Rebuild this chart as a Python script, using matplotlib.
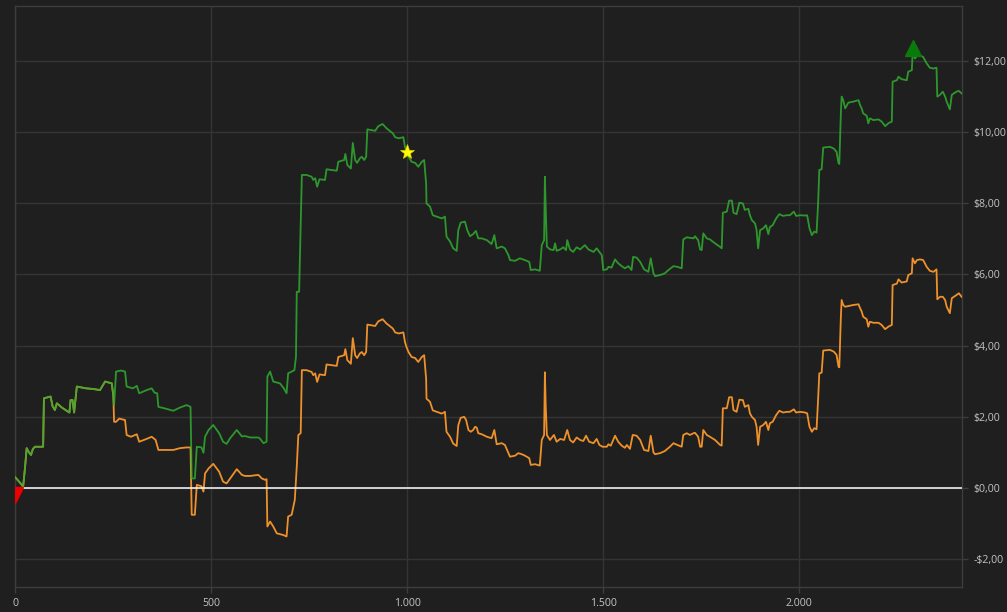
import numpy as np
import matplotlib
matplotlib.use("Agg")
import matplotlib.pyplot as plt
import matplotlib.transforms as mtransforms
from matplotlib.ticker import FuncFormatter, FixedLocator

# ---------------- data ----------------
green_x = [0, 12, 20, 25, 29, 35, 40, 45, 50, 71, 73, 90, 95, 101, 106, 120, 138, 141, 146, 150,
           157, 180, 200, 216, 229, 246, 250, 252, 257, 270, 280, 284, 300, 310, 316, 335, 348, 355,
           362, 365, 380, 403, 420, 437, 447, 450, 458, 463, 475, 480, 484, 493, 505, 520, 530, 539,
           548, 565, 578, 586, 599, 620, 624, 633, 641, 643, 650, 658, 675, 685, 692, 696, 712, 716,
           718, 724, 731, 743, 756, 760, 765, 770, 776, 790, 794, 820, 824, 839, 842, 847, 856, 861,
           867, 872, 879, 884, 890, 895, 898, 918, 926, 937, 947, 963, 969, 978, 990, 994, 998, 1003,
           1011, 1020, 1028, 1037, 1043, 1048, 1049, 1058, 1065, 1088, 1096, 1100, 1109, 1117, 1126,
           1130, 1136, 1147, 1153, 1160, 1168, 1175, 1181, 1190, 1203, 1215, 1222, 1228, 1241, 1249,
           1258, 1262, 1275, 1287, 1300, 1311, 1315, 1326, 1338, 1343, 1349, 1351, 1353, 1356, 1364,
           1373, 1377, 1381, 1390, 1398, 1405, 1408, 1415, 1423, 1432, 1441, 1453, 1462, 1475, 1483,
           1496, 1500, 1509, 1513, 1521, 1530, 1538, 1547, 1555, 1564, 1572, 1576, 1585, 1594, 1604,
           1615, 1621, 1628, 1632, 1645, 1657, 1666, 1679, 1689, 1700, 1704, 1713, 1730, 1734, 1742,
           1747, 1751, 1755, 1764, 1772, 1785, 1798, 1802, 1805, 1815, 1821, 1828, 1832, 1840, 1847,
           1856, 1861, 1870, 1874, 1879, 1887, 1891, 1895, 1900, 1908, 1915, 1921, 1925, 1932, 1941,
           1949, 1959, 1968, 1976, 1986, 1992, 2002, 2015, 2020, 2026, 2032, 2038, 2044, 2048, 2051,
           2057, 2061, 2078, 2088, 2095, 2100, 2102, 2106, 2108, 2112, 2117, 2125, 2138, 2151, 2155,
           2159, 2163, 2172, 2176, 2180, 2189, 2202, 2210, 2219, 2227, 2236, 2238, 2249, 2253, 2261,
           2274, 2278, 2287, 2289, 2295, 2300, 2308, 2316, 2325, 2333, 2342, 2350, 2352, 2359, 2366,
           2372, 2376, 2384, 2389, 2401, 2407, 2414]
green_y = [0.30, 0.15, 0.04, 0.60, 1.12, 1.00, 0.93, 1.10, 1.16, 1.16, 2.52, 2.57, 2.30, 2.19, 2.38,
           2.25, 2.12, 2.47, 2.47, 2.12, 2.85, 2.80, 2.78, 2.75, 2.99, 2.94, 2.60, 2.33, 3.27, 3.30,
           3.27, 2.85, 2.80, 2.87, 2.66, 2.75, 2.80, 2.68, 2.66, 2.28, 2.24, 2.17, 2.26, 2.33, 2.28,
           0.27, 0.27, 1.16, 1.14, 0.99, 1.44, 1.63, 1.77, 1.54, 1.30, 1.24, 1.40, 1.63, 1.45, 1.46,
           1.42, 1.42, 1.39, 1.26, 1.30, 3.13, 3.27, 2.99, 2.94, 2.80, 2.66, 3.22, 3.31, 3.69, 5.51,
           5.51, 8.79, 8.79, 8.74, 8.65, 8.70, 8.46, 8.67, 8.65, 8.95, 8.91, 9.16, 9.21, 9.38, 9.07,
           8.97, 9.69, 9.21, 9.13, 9.26, 9.30, 9.21, 9.30, 10.07, 10.03, 10.16, 10.22, 10.10, 9.96,
           9.85, 9.82, 9.85, 9.58, 9.44, 9.30, 9.16, 9.13, 9.02, 9.16, 9.21, 8.55, 7.99, 7.90, 7.66,
           7.57, 7.62, 7.06, 6.92, 6.73, 6.66, 7.24, 7.45, 7.48, 7.24, 7.07, 7.13, 7.22, 7.01, 7.01,
           6.96, 6.85, 7.10, 6.73, 6.78, 6.73, 6.54, 6.40, 6.38, 6.45, 6.40, 6.35, 6.12, 6.14, 6.10,
           6.82, 6.96, 8.74, 7.90, 6.78, 6.70, 6.68, 6.87, 6.66, 6.70, 6.76, 6.68, 6.96, 6.70, 6.63,
           6.76, 6.70, 6.82, 6.70, 6.63, 6.73, 6.54, 6.12, 6.14, 6.21, 6.19, 6.42, 6.31, 6.23, 6.17,
           6.23, 6.12, 6.49, 6.47, 6.35, 6.14, 6.07, 6.45, 6.03, 5.95, 5.98, 6.03, 6.12, 6.23, 6.21,
           6.17, 6.98, 7.04, 7.01, 7.07, 6.96, 6.70, 6.68, 7.15, 7.01, 6.98, 6.87, 6.77, 6.73, 7.73,
           7.76, 8.07, 8.07, 7.73, 7.69, 8.01, 7.99, 7.81, 7.84, 7.66, 7.52, 7.43, 7.24, 6.73, 7.24,
           7.29, 7.38, 7.13, 7.33, 7.38, 7.57, 7.69, 7.64, 7.66, 7.66, 7.76, 7.64, 7.66, 7.65, 7.66,
           7.29, 7.10, 7.20, 7.17, 8.00, 8.93, 8.95, 9.56, 9.58, 9.53, 9.44, 9.12, 9.10, 10.52, 10.99,
           10.89, 10.66, 10.82, 10.85, 10.89, 10.75, 10.66, 10.52, 10.45, 10.24, 10.38, 10.33, 10.35,
           10.29, 10.16, 10.24, 10.29, 11.41, 11.45, 11.55, 11.48, 11.45, 11.69, 11.73, 12.20, 12.06,
           12.13, 12.15, 12.10, 11.92, 11.80, 11.78, 11.80, 10.99, 11.04, 11.13, 10.99, 10.85, 10.63,
           11.04, 11.13, 11.15, 11.08]

orange_x = [0, 12, 20, 25, 29, 35, 40, 45, 50, 71, 73, 90, 95, 101, 106, 120, 138, 141, 146, 150,
            157, 180, 200, 216, 229, 246, 250, 252, 257, 265, 280, 284, 295, 310, 316, 335, 348, 358,
            365, 403, 420, 437, 447, 450, 458, 463, 475, 480, 484, 493, 505, 520, 530, 539, 548, 565,
            578, 586, 599, 620, 629, 637, 641, 643, 650, 658, 667, 684, 692, 696, 705, 713, 718, 722,
            728, 731, 743, 756, 760, 765, 770, 776, 790, 794, 820, 824, 839, 842, 847, 856, 861, 867,
            872, 879, 884, 890, 895, 898, 918, 926, 937, 947, 963, 969, 978, 990, 994, 998, 1003,
            1011, 1020, 1028, 1037, 1043, 1048, 1049, 1058, 1065, 1088, 1096, 1100, 1109, 1117, 1126,
            1130, 1136, 1145, 1150, 1156, 1162, 1168, 1173, 1177, 1181, 1190, 1203, 1215, 1222, 1228,
            1241, 1249, 1258, 1262, 1275, 1283, 1292, 1300, 1311, 1315, 1326, 1338, 1343, 1349, 1351,
            1353, 1356, 1364, 1374, 1381, 1390, 1400, 1408, 1415, 1423, 1432, 1441, 1449, 1456, 1464,
            1475, 1483, 1490, 1498, 1509, 1513, 1519, 1530, 1538, 1547, 1555, 1560, 1568, 1575, 1585,
            1594, 1604, 1615, 1621, 1628, 1632, 1645, 1657, 1670, 1679, 1689, 1700, 1704, 1713, 1721,
            1730, 1734, 1742, 1747, 1751, 1755, 1764, 1772, 1785, 1798, 1802, 1805, 1815, 1821, 1828,
            1832, 1840, 1847, 1856, 1861, 1870, 1874, 1879, 1887, 1891, 1895, 1900, 1908, 1915, 1921,
            1925, 1932, 1941, 1949, 1959, 1968, 1976, 1986, 1992, 2002, 2015, 2020, 2026, 2032, 2038,
            2044, 2048, 2051, 2057, 2061, 2078, 2088, 2095, 2100, 2102, 2106, 2108, 2112, 2117, 2125,
            2138, 2151, 2155, 2159, 2163, 2172, 2176, 2180, 2189, 2202, 2210, 2219, 2227, 2236, 2238,
            2249, 2253, 2261, 2274, 2278, 2287, 2289, 2295, 2300, 2308, 2316, 2325, 2333, 2342, 2350,
            2352, 2359, 2366, 2372, 2376, 2384, 2389, 2401, 2407, 2414]
orange_y = [0.30, 0.15, 0.04, 0.60, 1.12, 1.00, 0.93, 1.10, 1.16, 1.16, 2.52, 2.57, 2.30, 2.19, 2.38,
            2.25, 2.12, 2.47, 2.47, 2.12, 2.85, 2.80, 2.78, 2.75, 2.99, 2.94, 2.60, 1.86, 1.86, 1.95,
            1.91, 1.49, 1.44, 1.51, 1.30, 1.38, 1.44, 1.35, 1.07, 1.07, 1.12, 1.14, 1.14, -0.75,
            -0.75, 0.09, 0.05, -0.10, 0.41, 0.55, 0.68, 0.46, 0.18, 0.13, 0.27, 0.53, 0.37, 0.34,
            0.34, 0.37, 0.27, 0.23, 0.25, -1.08, -0.94, -1.08, -1.27, -1.32, -1.36, -0.80, -0.75,
            -0.33, 0.60, 1.49, 1.54, 3.31, 3.31, 3.26, 3.17, 3.22, 2.98, 3.19, 3.17, 3.47, 3.43, 3.68,
            3.73, 3.90, 3.59, 3.49, 4.21, 3.73, 3.65, 3.78, 3.82, 3.73, 3.82, 4.59, 4.55, 4.68, 4.74,
            4.62, 4.48, 4.37, 4.34, 4.37, 4.10, 3.96, 3.82, 3.68, 3.65, 3.54, 3.68, 3.73, 3.07, 2.51,
            2.42, 2.18, 2.09, 2.14, 1.58, 1.44, 1.25, 1.18, 1.76, 1.97, 2.00, 1.91, 1.63, 1.58, 1.63,
            1.72, 1.70, 1.54, 1.51, 1.44, 1.40, 1.63, 1.23, 1.26, 1.21, 0.98, 0.88, 0.91, 0.98, 0.95,
            0.91, 0.84, 0.65, 0.67, 0.63, 1.35, 1.49, 3.25, 2.33, 1.49, 1.35, 1.49, 1.30, 1.38, 1.35,
            1.63, 1.35, 1.28, 1.42, 1.35, 1.32, 1.47, 1.30, 1.26, 1.38, 1.21, 1.16, 1.16, 1.23, 1.19,
            1.47, 1.30, 1.19, 1.13, 1.21, 1.10, 1.49, 1.47, 1.35, 1.07, 1.04, 1.47, 1.00, 0.95, 0.98,
            1.04, 1.16, 1.26, 1.21, 1.16, 1.49, 1.54, 1.49, 1.54, 1.55, 1.44, 1.16, 1.16, 1.63, 1.49,
            1.44, 1.35, 1.21, 1.19, 2.24, 2.24, 2.55, 2.55, 2.19, 2.14, 2.48, 2.47, 2.28, 2.33, 2.10,
            2.00, 1.91, 1.72, 1.21, 1.72, 1.77, 1.86, 1.63, 1.82, 1.86, 2.05, 2.17, 2.12, 2.14, 2.14,
            2.21, 2.12, 2.14, 2.12, 2.10, 1.72, 1.58, 1.68, 1.65, 2.50, 3.22, 3.24, 3.86, 3.88, 3.83,
            3.74, 3.41, 3.39, 4.80, 5.28, 5.14, 5.09, 5.11, 5.14, 5.16, 5.05, 4.96, 4.81, 4.74, 4.53,
            4.67, 4.64, 4.64, 4.58, 4.46, 4.53, 4.58, 5.70, 5.74, 5.86, 5.77, 5.80, 5.98, 6.03, 6.45,
            6.31, 6.40, 6.42, 6.40, 6.21, 6.10, 6.07, 6.14, 5.30, 5.37, 5.37, 5.28, 5.09, 4.91, 5.33,
            5.42, 5.47, 5.37]

highlight_x = [998]
highlight_y = [9.44]

x_ticks = [0, 500, 1000, 1500, 2000]
x_tick_labels = ["0", "500", "1.000", "1.500", "2.000"]
y_ticks = [-2, 0, 2, 4, 6, 8, 10, 12]

# ---------------- style ----------------
BG = "#1f1f1f"
GRID = "#343434"
SPINE = "#3d3d3d"
TXT = "#c4c4c4"
GREEN = "#30ad30"
ORANGE = "#ef912b"

fig = plt.figure(figsize=(10.07, 6.12), dpi=100, facecolor=BG)
ax = fig.add_axes([0.0152, 0.0413, 0.9401, 0.9481], facecolor=BG)

ax.plot(orange_x, orange_y, color=ORANGE, lw=1.3, zorder=3)
ax.plot(green_x, green_y, color=GREEN, lw=1.3, alpha=0.85, zorder=4)

ax.axhline(0, color="white", lw=1.1, zorder=5)

# markers
gx = np.asarray(green_x)
gy = np.asarray(green_y)
imax = int(np.argmax(gy))
up = ax.transData + mtransforms.ScaledTranslation(0, 6 / 100, fig.dpi_scale_trans)
down = ax.transData + mtransforms.ScaledTranslation(0, -7 / 100, fig.dpi_scale_trans)
ax.plot([gx[imax]], [gy[imax]], marker="^", ms=11, color="#0a7a0a", mec="#0a7a0a",
        transform=up, zorder=6, clip_on=False)
ax.plot([gx[0]], [0], marker="v", ms=12, color="#ee0000", mec="#ee0000",
        transform=down, zorder=6)
ax.plot(highlight_x, highlight_y, marker="*", ms=11, color="#ffff00", mec="#e6d200",
        mew=0.5, linestyle="none", zorder=7)

ax.set_xlim(0, 2415)
ax.set_ylim(-2.77, 13.52)

ax.xaxis.set_major_locator(FixedLocator(x_ticks))
ax.set_xticklabels(x_tick_labels)
ax.yaxis.set_major_locator(FixedLocator(y_ticks))


def money(v, pos=None):
    s = f"{abs(v):.2f}".replace(".", ",")
    return ("-$" if v < 0 else "$") + s


ax.yaxis.set_major_formatter(FuncFormatter(money))
ax.yaxis.tick_right()

ax.grid(True, color=GRID, lw=1.0, zorder=0)
for sp in ax.spines.values():
    sp.set_color(SPINE)
    sp.set_linewidth(1.0)

ax.tick_params(axis="both", colors=SPINE, labelcolor=TXT, labelsize=7.6, length=4, width=1)
ax.tick_params(axis="y", pad=4)
ax.tick_params(axis="x", pad=4)
for lab in ax.get_xticklabels() + ax.get_yticklabels():
    lab.set_family(["Open Sans", "DejaVu Sans"])

fig.savefig("out.png", dpi=100, facecolor=BG)
